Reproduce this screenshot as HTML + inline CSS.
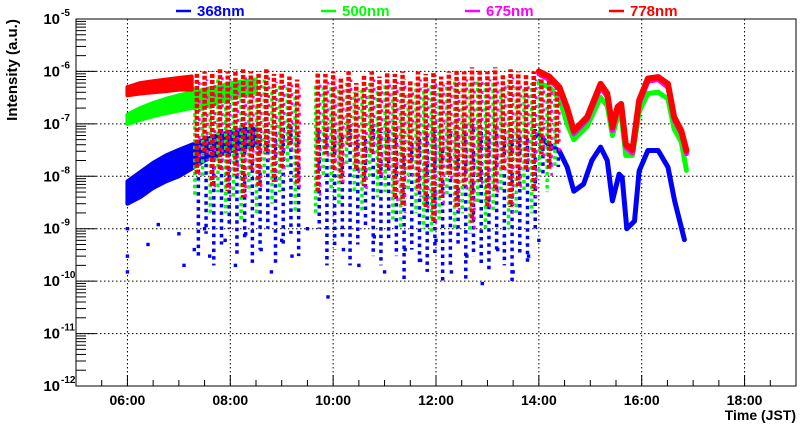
<!DOCTYPE html>
<html><head><meta charset="utf-8">
<style>
html,body{margin:0;padding:0;background:#fff;}
svg{display:block;font-family:"Liberation Sans",Arial,sans-serif;font-weight:bold;}
</style></head>
<body>
<svg id="chart" width="800" height="427" viewBox="0 0 800 427">
<g id="grid"></g>
<g id="marks"></g>
<g id="axes"></g>
<g font-size="15">
  <g><line x1="176" y1="11" x2="191" y2="11" stroke="#0000ff" stroke-width="2.5"/><text x="197" y="16" fill="#0000ff">368nm</text></g>
  <g><line x1="321" y1="11" x2="336" y2="11" stroke="#00ff00" stroke-width="2.5"/><text x="342" y="16" fill="#00ff00">500nm</text></g>
  <g><line x1="465" y1="11" x2="480" y2="11" stroke="#ff00ff" stroke-width="2.5"/><text x="486" y="16" fill="#ff00ff">675nm</text></g>
  <g><line x1="609" y1="11" x2="624" y2="11" stroke="#ff0000" stroke-width="2.5"/><text x="630" y="16" fill="#ff0000">778nm</text></g>
</g>
<text x="0" y="0" font-size="15" text-anchor="middle" transform="translate(17,70) rotate(-90)">Intensity (a.u.)</text>
<text x="796" y="420" font-size="14" text-anchor="end">Time (JST)</text>
</svg>
<script>
// ---- data ----
const xTickHours = [6, 8, 10, 12, 14, 16, 18];
const xTickLabels = ["06:00", "08:00", "10:00", "12:00", "14:00", "16:00", "18:00"];
const yTickExps = [-12, -11, -10, -9, -8, -7, -6, -5];

// morning continuous bands
const bandT = [6.0, 6.25, 6.5, 6.75, 7.0, 7.25, 7.5, 7.75, 8.0, 8.25, 8.5];
const redHi = [5e-7, 6e-7, 6.5e-7, 7e-7, 7.5e-7, 8e-7, 9e-7, 1e-6, 1e-6, 1.1e-6, 1.1e-6];
const redLo = [3.5e-7, 3.8e-7, 4e-7, 4.2e-7, 4.5e-7, 4.5e-7, 5e-7, 5e-7, 5e-7, 5e-7, 5e-7];
const greenHi = [1.5e-7, 2e-7, 2.5e-7, 3e-7, 3.5e-7, 4e-7, 4.5e-7, 5e-7, 6e-7, 6.5e-7, 7e-7];
const greenLo = [1e-7, 1.2e-7, 1.4e-7, 1.6e-7, 1.8e-7, 2e-7, 2.2e-7, 2.5e-7, 3e-7, 3.5e-7, 4e-7];
const blueHi = [8e-9, 1.2e-8, 1.8e-8, 2.5e-8, 3.2e-8, 4e-8, 5e-8, 6e-8, 7e-8, 8e-8, 8e-8];
const blueLo = [3e-9, 4e-9, 6e-9, 8e-9, 1e-8, 1.4e-8, 2e-8, 2.5e-8, 3e-8, 3.5e-8, 4e-8];

// cloudy-period streaks
const streakT = [7.35,7.5,7.65,7.8,7.95,8.1,8.25,8.4,8.55,8.7,8.85,9.0,9.15,9.3,9.7,9.85,10.0,10.15,10.3,10.45,10.6,10.75,10.9,11.05,11.2,11.35,11.5,11.65,11.8,11.95,12.1,12.25,12.4,12.55,12.7,12.85,13.0,13.15,13.3,13.45,13.6,13.75,13.9,14.05,14.2,14.35];
const redTop = [9e-7,1e-6,1e-6,1.1e-6,1e-6,1.1e-6,1.1e-6,1e-6,1e-6,1.1e-6,9e-7,1e-6,8e-7,7e-7,1e-6,9e-7,1e-6,8e-7,1e-6,6e-7,9e-7,1e-6,8e-7,1e-6,9e-7,1e-6,7e-7,1e-6,9e-7,1e-6,8e-7,1e-6,1.1e-6,1e-6,1.2e-6,1.1e-6,1e-6,1.2e-6,9e-7,1.1e-6,1e-6,9e-7,1e-6,8e-7,7e-7,5e-7];
const redBot = [8e-9,2e-8,5e-9,1e-8,4e-9,8e-9,3e-9,1e-8,5e-9,2e-8,6e-9,1e-8,3e-8,5e-9,4e-9,2e-8,1e-8,6e-9,3e-8,1e-8,5e-9,2e-8,8e-9,1e-8,3e-9,2e-9,1e-8,4e-9,2e-9,1e-9,3e-9,8e-9,2e-9,5e-9,1e-9,6e-9,2e-9,4e-9,1e-8,2e-9,5e-9,1e-8,4e-9,2e-8,1e-8,3e-8];
const greenTop = [5e-7,6e-7,6e-7,7e-7,6e-7,7e-7,7e-7,6e-7,6e-7,7e-7,5e-7,6e-7,5e-7,4e-7,6e-7,5e-7,6e-7,5e-7,6e-7,4e-7,5e-7,6e-7,5e-7,6e-7,5e-7,6e-7,4e-7,6e-7,5e-7,6e-7,5e-7,6e-7,7e-7,6e-7,7e-7,7e-7,6e-7,7e-7,5e-7,7e-7,6e-7,5e-7,6e-7,5e-7,4e-7,3e-7];
const greenBot = [4e-9,1e-8,2e-9,5e-9,2e-9,4e-9,1.5e-9,5e-9,2e-9,1e-8,3e-9,5e-9,1.5e-8,2e-9,2e-9,1e-8,5e-9,3e-9,1.5e-8,5e-9,2e-9,1e-8,4e-9,5e-9,1.5e-9,1e-9,5e-9,2e-9,1e-9,8e-10,1.5e-9,4e-9,1e-9,2e-9,8e-10,3e-9,1e-9,2e-9,5e-9,1e-9,2e-9,5e-9,2e-9,1e-8,5e-9,1.5e-8];
const blueTop = [5e-8,6e-8,7e-8,8e-8,7e-8,9e-8,8e-8,9e-8,1e-7,8e-8,9e-8,1e-7,9e-8,6e-8,9e-8,8e-8,1e-7,7e-8,8e-8,5e-8,6e-8,8e-8,7e-8,9e-8,8e-8,6e-8,5e-8,7e-8,8e-8,9e-8,6e-8,8e-8,7e-8,9e-8,1e-7,8e-8,7e-8,1.1e-7,9e-8,8e-8,7e-8,6e-8,8e-8,6e-8,4e-8,3e-8];
const blueBot = [3e-10,8e-10,2e-10,5e-10,1e-9,3e-10,6e-10,2e-10,4e-10,1e-9,2e-10,5e-10,8e-10,3e-10,1e-9,2e-10,4e-10,6e-10,2e-10,5e-10,1e-9,3e-10,2e-10,6e-10,3e-10,1e-10,4e-10,2e-10,1.5e-10,3e-10,1e-10,2e-10,5e-10,1e-10,3e-10,2e-10,1.5e-10,4e-10,2e-10,1e-10,3e-10,2e-10,1e-9,1e-8,1.5e-8,1.5e-8];

// scattered low 368nm points
const scatT = [6.0,6.0,6.0,6.4,6.6,7.0,7.1,7.3,7.5,7.6,7.9,8.1,8.3,8.6,8.8,9.0,9.2,9.5,9.9,10.2,10.5,10.8,11.0,11.4,11.7,12.0,12.3,12.6,12.9,13.2,13.5,13.8,14.0];
const scatV = [1e-9,3e-10,1.5e-10,5e-10,1.2e-9,8e-10,2e-10,4e-10,1e-9,3e-10,6e-10,2e-10,8e-10,4e-10,1.5e-10,6e-10,3e-10,1e-9,5e-11,4e-10,2e-10,7e-10,1.5e-10,4e-10,2.5e-10,6e-10,1.5e-10,3e-10,9e-11,4e-10,1.5e-10,3e-10,6e-10];

// afternoon clear sky curves
const curveT = [14.0,14.2,14.4,14.55,14.68,14.94,15.20,15.33,15.43,15.53,15.60,15.69,15.82,15.95,16.12,16.32,16.51,16.63,16.77,16.87];
const red778 = [1e-6,8e-7,5e-7,2e-7,7.4e-8,1.35e-7,5.8e-7,3.8e-7,8.7e-8,2.1e-7,2.4e-7,4.1e-8,3.2e-8,2.8e-7,7.3e-7,7.8e-7,5.8e-7,1.35e-7,7.4e-8,3.1e-8];
const mag675 = [9e-7,7e-7,4.5e-7,1.8e-7,6.5e-8,1.2e-7,5e-7,3.3e-7,7.5e-8,1.8e-7,2.1e-7,3.6e-8,2.8e-8,2.4e-7,6.5e-7,7e-7,5e-7,1.2e-7,6.5e-8,2.7e-8];
const green500 = [6e-7,5e-7,3e-7,1e-7,5e-8,9e-8,3.2e-7,2.2e-7,6e-8,1.3e-7,1.5e-7,2.5e-8,2.5e-8,1.7e-7,3.8e-7,4e-7,3e-7,8e-8,4.5e-8,1.3e-8];
const blueT = [14.0,14.2,14.4,14.55,14.68,14.87,15.03,15.20,15.33,15.43,15.56,15.62,15.71,15.86,15.95,16.12,16.32,16.51,16.64,16.83];
const blue368 = [6e-8,4e-8,3e-8,1.5e-8,5.2e-9,7.1e-9,2e-8,3.6e-8,2e-8,3.4e-9,1.1e-8,9.5e-9,1e-9,1.4e-9,1.26e-8,3.1e-8,3.1e-8,1.5e-8,3.4e-9,6.2e-10];

// ---- scales ----
const X0 = 76, X1 = 796, Y0 = 19, Y1 = 386;
const T0 = 5, T1 = 19, E0 = -5, E1 = -12;
const xs = t => X0 + (t - T0) / (T1 - T0) * (X1 - X0);
const ys = v => Y0 + (E0 - Math.log10(v)) / (E0 - E1) * (Y1 - Y0);
const NS = "http://www.w3.org/2000/svg";
function mk(tag, attrs, parent) {
  const e = document.createElementNS(NS, tag);
  for (const k in attrs) e.setAttribute(k, attrs[k]);
  parent.appendChild(e);
  return e;
}
const grid = document.getElementById('grid');
const marks = document.getElementById('marks');
const axes = document.getElementById('axes');

xTickHours.forEach(h => {
  const l = mk('line', {x1: xs(h), x2: xs(h), y1: Y0, y2: Y1, stroke: '#000', 'stroke-width': 1, 'stroke-dasharray': '1.5 2.5'}, grid);
  
  
});
yTickExps.forEach(e => {
  const l = mk('line', {x1: X0, x2: X1, y1: ys(Math.pow(10, e)), y2: ys(Math.pow(10, e)), stroke: '#000', 'stroke-width': 1, 'stroke-dasharray': '1.5 2.5'}, grid);
  
  
});

function band(hi, lo, color, name, upto) {
  const n = upto || bandT.length;
  const T = bandT.slice(0, n);
  let d = 'M' + T.map((t, i) => xs(t) + ',' + ys(hi[i])).join('L');
  d += 'L' + T.map((t, i) => xs(t) + ',' + ys(lo[i])).reverse().join('L') + 'Z';
  const p = mk('path', {d: d, fill: color, stroke: color, 'stroke-width': 4, 'stroke-linejoin': 'round'}, marks);
  
  
}
function streaks(top, bot, color, off, w, dash, name) {
  streakT.forEach((t, i) => {
    const l = mk('line', {x1: xs(t) + off, x2: xs(t) + off, y1: ys(top[i]), y2: ys(bot[i]), stroke: color, 'stroke-width': w, 'stroke-dasharray': dash, 'stroke-dashoffset': (i * 1.7) % 5}, marks);
    
    
  });
}
function curve(ts, vs, color, w, name) {
  const p = mk('polyline', {points: ts.map((t, i) => xs(t) + ',' + ys(vs[i])).join(' '), fill: 'none', stroke: color, 'stroke-width': w, 'stroke-linejoin': 'round', 'stroke-linecap': 'round'}, marks);
  
  
}

band(blueHi, blueLo, '#0000ff', 'band-368nm');
streaks(blueTop, blueBot, '#0000ff', 1.5, 3.5, '3.5 4', 'streak-368nm');
scatT.forEach((t, i) => {
  const r = mk('rect', {x: xs(t) - 1.7, y: ys(scatV[i]) - 1.7, width: 3.4, height: 3.4, fill: '#0000ff'}, marks);
  
  
});
curve(blueT, blue368, '#0000ff', 5, 'curve-368nm');
band(greenHi, greenLo, '#00ff00', 'band-500nm');
streaks(greenTop, greenBot, '#00ff00', -2, 3.5, '3.5 3', 'streak-500nm');
curve(curveT, green500, '#00ff00', 5, 'curve-500nm');
streaks(redTop.map(v => v * 0.7), redBot, '#ff00ff', 2.5, 2.5, '3 6', 'streak-675nm');
curve(curveT, mag675, '#ff00ff', 5, 'curve-675nm');
band(redHi, redLo, '#ff0000', 'band-778nm', 6);
streaks(redTop, redBot.map(v => v * 1.3), '#ff0000', 0, 4.5, '4 2', 'streak-778nm');
curve(curveT, red778, '#ff0000', 6, 'curve-778nm');

const fr = mk('rect', {x: X0, y: Y0, width: X1 - X0, height: Y1 - Y0, fill: 'none', stroke: '#000', 'stroke-width': 1}, axes);


for (let e = E1; e < E0; e++) {
  for (let m = 1; m < 10; m++) {
    const y = ys(m * Math.pow(10, e));
    const tk = mk('line', {x1: X0, x2: X0 + (m === 1 ? 20 : 10), y1: y, y2: y, stroke: '#000', 'stroke-width': 1}, axes);
    
    
  }
}
yTickExps.forEach(e => {
  const y = ys(Math.pow(10, e));
  const tx = mk('text', {x: 60, y: y + 5, 'font-size': 15, 'text-anchor': 'end'}, axes);
  tx.textContent = '10';
  
  
  const sup = mk('text', {x: 61, y: y - 3, 'font-size': 10}, axes);
  sup.textContent = String(e);
  
  
});
for (let t = T0; t <= T1; t += 0.5) {
  const major = (t % 2 === 0);
  const tk = mk('line', {x1: xs(t), x2: xs(t), y1: Y1, y2: Y1 - (major ? 11 : 6), stroke: '#000', 'stroke-width': 1}, axes);
  
  
}
xTickHours.forEach((h, i) => {
  const tx = mk('text', {x: xs(h), y: 405, 'font-size': 14, 'text-anchor': 'middle'}, axes);
  tx.textContent = xTickLabels[i];
  
  
});
</script>
</body></html>
